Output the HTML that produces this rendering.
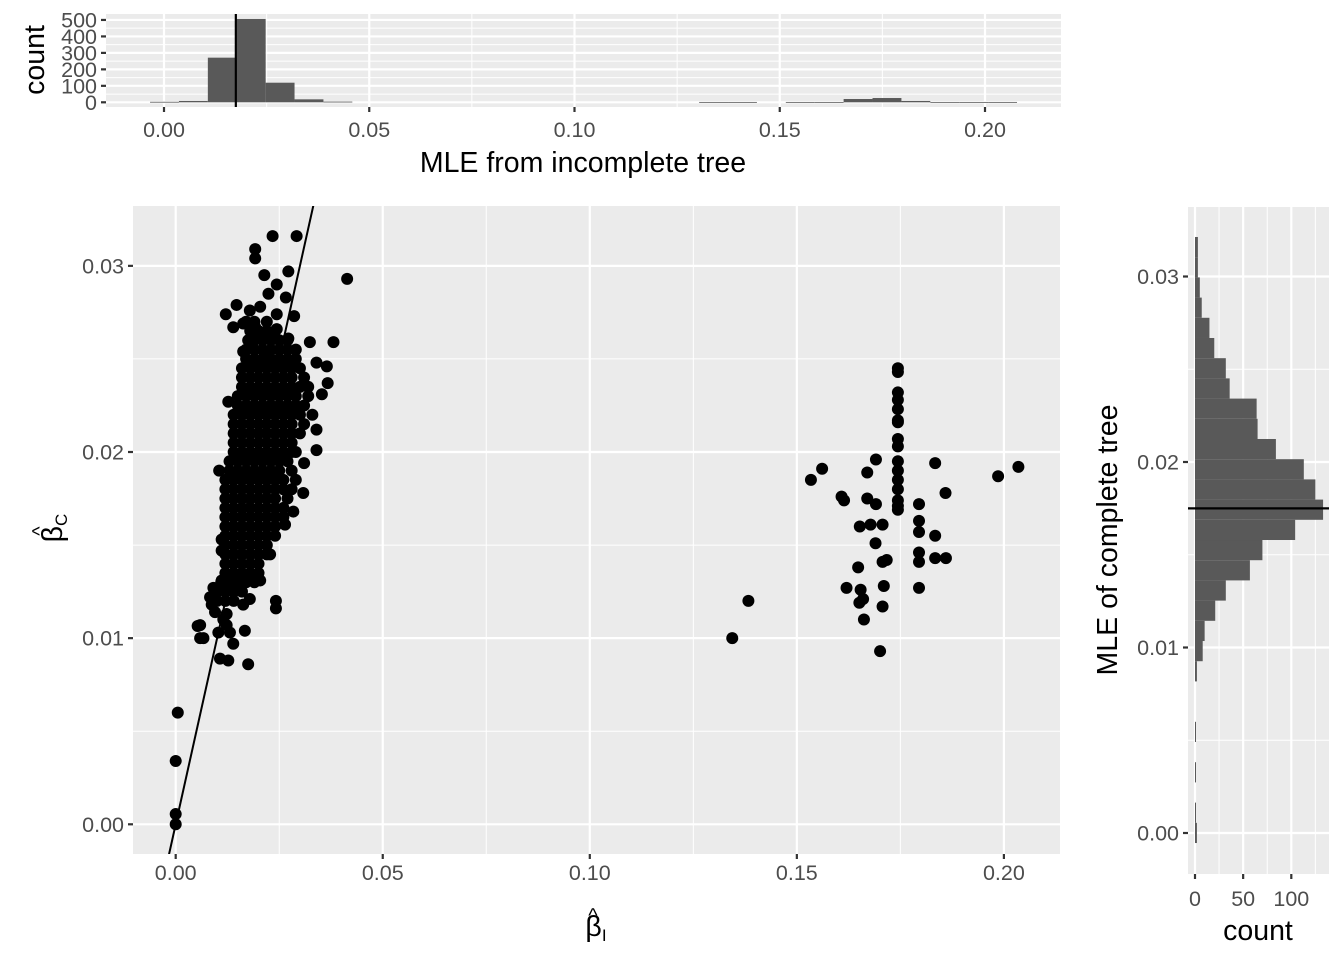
<!DOCTYPE html>
<html><head><meta charset="utf-8"><style>
html,body{margin:0;padding:0;background:#fff;}
svg{display:block;font-family:"Liberation Sans",Arial,sans-serif;}
</style></head><body>
<svg id="c" width="1344" height="960" viewBox="0 0 1344 960"></svg>
<script>
// ---- data (MLE values in units of 1e-3) ----
const clusterRows = [
 [27.0,[17,19,22]],[26.5,[18,20,22,24]],[26.0,[19,21,23,25,27]],[25.5,[17,19,21,23,25,27,29]],
 [25.0,[17,19,21,23,25,27,29]],[24.5,[16,18,20,22,24,26,28,30]],[24.0,[16,18,20,22,24,26,28,31]],
 [23.5,[16,18,20,22,24,26,28,30,32]],[23.0,[15,17,19,21,23,25,27,29,32]],[22.5,[15,17,19,21,23,25,27,29,31]],
 [22.0,[14,16,18,20,22,24,26,28,30,33]],[21.5,[14,16,18,20,22,24,26,28,31]],[21.0,[14,16,18,20,22,24,26,28,30]],
 [20.5,[14,16,18,20,22,24,26,28]],[20.0,[14,16,18,20,22,24,26,29]],[19.5,[13,15,17,19,21,23,25,27]],
 [19.0,[13,15,17,19,21,23,25,28]],[18.5,[12,14,16,18,20,22,24,26,29]],[18.0,[12,14,16,18,20,22,24,26,28]],
 [17.5,[12,14,16,18,20,22,24,27]],[17.0,[12,14,16,18,20,22,24,26]],[16.5,[12,14,16,18,20,22,24,26]],
 [16.0,[12,14,16,18,20,22,24]],[15.5,[12,14,16,18,20,22,24]],[15.0,[12,14,16,18,20,22]],
 [14.5,[12,14,16,18,20,22]],[14.0,[12,14,16,18,20]],[13.5,[12,14,16,18,20]],[13.0,[11,13,15,17,19]],
 [12.5,[10,12,14,16]],[12.0,[10,12,14]]
];
const extraX = [23.4,29.2,19.2,19.2,21.4,27.2,41.4,24.4,22.4,26.6,12.1,14.7,17.9,20.4,24.4,28.6,13.9,16.3,19.2,24.4,38.1,32.4,17.5,27.2,16.3,22.0,34.0,36.5,36.7,35.3,12.7,34.0,34.0,31.0,30.8,10.5,28.0,28.4,26.4,11.1,11.1,22.8,11.1,9.1,24.2,24.2,17.9,16.3,5.9,6.7,12.3,16.7,13.9,10.7,12.7,17.5,8.7,9.5,11.5,12.3,10.3,13.1,8.3,20.4,14.7,0.5,0,0,0,5.3,5.9];
const extraY = [31.6,31.6,30.9,30.4,29.5,29.7,29.3,29.0,28.5,28.3,27.4,27.9,27.6,27.8,27.4,27.3,26.7,26.9,26.7,26.6,25.9,25.9,26.0,26.1,25.4,25.3,24.8,24.6,23.7,23.1,22.7,21.2,20.1,19.4,17.8,19.0,20.0,16.8,16.1,15.3,14.7,14.5,13.1,12.7,12.0,11.6,12.1,11.8,10.7,10.0,10.7,10.4,9.7,8.9,8.8,8.6,11.8,11.4,11.0,11.3,10.3,10.3,12.2,13.1,12.8,6.0,3.4,0.55,0,10.65,10.0];
const farX = [174.4,174.4,174.4,174.4,174.4,174.4,174.4,174.4,174.4,174.4,174.4,174.4,174.4,174.4,174.4,174.4,169.1,183.4,156.1,153.4,167.0,198.6,203.5,185.9,160.8,161.4,167.0,169.1,179.5,165.2,167.8,170.7,179.5,179.5,183.4,169.0,171.7,170.7,179.5,179.5,183.4,186.0,164.8,162.0,165.4,171.0,179.5,166.0,165.1,170.7,166.2,170.1,138.3,134.4];
const farY = [24.5,24.3,23.2,22.8,22.3,21.7,21.6,20.7,20.3,19.5,19.0,18.5,18.0,17.4,17.1,16.9,19.6,19.4,19.1,18.5,18.9,18.7,19.2,17.8,17.6,17.4,17.5,17.2,17.2,16.0,16.1,16.1,16.3,15.7,15.5,15.1,14.2,14.1,14.6,14.1,14.3,14.3,13.8,12.7,12.6,12.8,12.7,12.1,11.9,11.7,11.0,9.3,12.0,10.0];
const meanValue = 0.0175;
// top histogram (incomplete tree): 30 bins
const topBinStart = -0.0034, topBinWidth = 0.00704;
const topCounts = [3,8,271,506,119,18,4,0,0,0,0,0,0,0,0,0,0,0,0,2,2,0,2,2,20,26,8,2,2,2];
const topTicks = [0,100,200,300,400,500];
const xTicks = [0,0.05,0.10,0.15,0.20];
// right histogram (complete tree): 30 bins
const rightBinStart = -0.00054, rightBinWidth = 0.001089;
const rightCounts = [2,1,0,1,0,1,0,0,2,8,10,21,32,57,70,104,133,125,113,84,65,64,36,32,20,15,7,5,3,3];
const rightXTicks = [0,50,100];
const yTicks = [0,0.01,0.02,0.03];

const NS="http://www.w3.org/2000/svg";
const svg=document.getElementById('c');
function mk(tag,attrs,parent){const e=document.createElementNS(NS,tag);for(const k in attrs)e.setAttribute(k,attrs[k]);(parent||svg).appendChild(e);return e;}
const GRID='#ebebeb', TXT='#4d4d4d', TFS=21.5, AFS=28.5;

// ===== Main panel =====
const M={l:133,r:1060,t:206,b:854};
const mx=v=>175.7+v*4141, my=v=>824.3-v*18615;
let p=mk('rect',{x:M.l,y:M.t,width:M.r-M.l,height:M.b-M.t,fill:GRID});


for(let v=-0.025;v<=0.23;v+=0.05){const X=mx(v);if(X>M.l&&X<M.r){const g=mk('line',{x1:X,x2:X,y1:M.t,y2:M.b,stroke:'#fff','stroke-width':1});

}}
for(let v=-0.005;v<=0.036;v+=0.01){const Y=my(v);if(Y>M.t&&Y<M.b){const g=mk('line',{x1:M.l,x2:M.r,y1:Y,y2:Y,stroke:'#fff','stroke-width':1});

}}
xTicks.forEach(v=>{const X=mx(v);const g=mk('line',{x1:X,x2:X,y1:M.t,y2:M.b,stroke:'#fff','stroke-width':2.2});


const t=mk('line',{x1:X,x2:X,y1:M.b,y2:M.b+5,stroke:'#333','stroke-width':2.2});


const l=mk('text',{x:X,y:M.b+26,'text-anchor':'middle','font-size':TFS,fill:TXT});l.textContent=v.toFixed(2);

});
yTicks.forEach(v=>{const Y=my(v);const g=mk('line',{x1:M.l,x2:M.r,y1:Y,y2:Y,stroke:'#fff','stroke-width':2.2});


const t=mk('line',{x1:M.l-5,x2:M.l,y1:Y,y2:Y,stroke:'#333','stroke-width':2.2});


const l=mk('text',{x:M.l-9,y:Y+7.5,'text-anchor':'end','font-size':TFS,fill:TXT});l.textContent=v.toFixed(2);

});
const pts=mk('g',{fill:'#000'});


function dot(x,y){const c=mk('circle',{cx:mx(x/1000),cy:my(y/1000),r:6},pts);

}
clusterRows.forEach(r=>r[1].forEach(x=>dot(x,r[0])));
extraX.forEach((x,i)=>dot(x,extraY[i]));
farX.forEach((x,i)=>dot(x,farY[i]));
const cp=mk('clipPath',{id:'mclip'});mk('rect',{x:M.l,y:M.t,width:M.r-M.l,height:M.b-M.t},cp);
const idl=mk('line',{x1:mx(-0.005),y1:my(-0.005),x2:mx(0.04),y2:my(0.04),stroke:'#000','stroke-width':2,'clip-path':'url(#mclip)'});


let xt=mk('text',{x:596,y:936,'text-anchor':'middle','font-size':AFS,fill:'#000'});xt.innerHTML='β<tspan font-size="17" dy="5">I</tspan>';


let xh=mk('text',{x:593,y:922,'text-anchor':'middle','font-size':20,fill:'#000'});xh.textContent='^';


let yt=mk('text',{x:0,y:0,'text-anchor':'middle','font-size':AFS,fill:'#000',transform:'translate(62,528) rotate(-90)'});yt.innerHTML='β<tspan font-size="17" dy="5">C</tspan>';


let yh=mk('text',{x:0,y:0,'text-anchor':'middle','font-size':20,fill:'#000',transform:'translate(46,531) rotate(-90)'});yh.textContent='^';



// ===== Top histogram =====
const T={l:106,r:1061,t:14,b:107};
const tx=v=>164+v*4105, ty=c=>102.3-c*0.1647;
p=mk('rect',{x:T.l,y:T.t,width:T.r-T.l,height:T.b-T.t,fill:GRID});


for(let c=50;c<=550;c+=100){const Y=ty(c);if(Y>T.t){const g=mk('line',{x1:T.l,x2:T.r,y1:Y,y2:Y,stroke:'#fff','stroke-width':1});

}}
for(let v=-0.025;v<=0.23;v+=0.05){const X=tx(v);if(X>T.l&&X<T.r){const g=mk('line',{x1:X,x2:X,y1:T.t,y2:T.b,stroke:'#fff','stroke-width':1});

}}
topTicks.forEach(c=>{const Y=ty(c);const g=mk('line',{x1:T.l,x2:T.r,y1:Y,y2:Y,stroke:'#fff','stroke-width':2.2});


const t=mk('line',{x1:T.l-5,x2:T.l,y1:Y,y2:Y,stroke:'#333','stroke-width':2.2});


const l=mk('text',{x:T.l-9,y:Y+7.5,'text-anchor':'end','font-size':TFS,fill:TXT});l.textContent=c;

});
xTicks.forEach(v=>{const X=tx(v);const g=mk('line',{x1:X,x2:X,y1:T.t,y2:T.b,stroke:'#fff','stroke-width':2.2});


const t=mk('line',{x1:X,x2:X,y1:T.b,y2:T.b+5,stroke:'#333','stroke-width':2.2});


const l=mk('text',{x:X,y:T.b+30,'text-anchor':'middle','font-size':TFS,fill:TXT});l.textContent=v.toFixed(2);

});
topCounts.forEach((c,i)=>{if(c<=0)return;const x0=tx(topBinStart+i*topBinWidth),x1=tx(topBinStart+(i+1)*topBinWidth);
const b=mk('rect',{x:x0,y:ty(c),width:x1-x0,height:Math.max(ty(0)-ty(c),0.8),fill:'#595959'});

});
const vl=mk('line',{x1:tx(meanValue),x2:tx(meanValue),y1:T.t,y2:T.b,stroke:'#000','stroke-width':2.2});


let tt=mk('text',{x:583,y:172,'text-anchor':'middle','font-size':AFS,fill:'#000'});tt.textContent='MLE from incomplete tree';


let tyt=mk('text',{x:0,y:0,'text-anchor':'middle','font-size':AFS,fill:'#000',transform:'translate(44,60) rotate(-90)'});tyt.textContent='count';



// ===== Right histogram =====
const R={l:1188,r:1329,t:207,b:874};
const rx=c=>1195+c*0.963, ry=v=>833-v*18550;
p=mk('rect',{x:R.l,y:R.t,width:R.r-R.l,height:R.b-R.t,fill:GRID});


for(let c=25;c<=140;c+=50){const g=mk('line',{x1:rx(c),x2:rx(c),y1:R.t,y2:R.b,stroke:'#fff','stroke-width':1});

}
for(let v=-0.005;v<=0.036;v+=0.01){const Y=ry(v);if(Y>R.t&&Y<R.b){const g=mk('line',{x1:R.l,x2:R.r,y1:Y,y2:Y,stroke:'#fff','stroke-width':1});

}}
rightXTicks.forEach(c=>{const X=rx(c);const g=mk('line',{x1:X,x2:X,y1:R.t,y2:R.b,stroke:'#fff','stroke-width':2.2});


const t=mk('line',{x1:X,x2:X,y1:R.b,y2:R.b+5,stroke:'#333','stroke-width':2.2});


const l=mk('text',{x:X,y:R.b+32,'text-anchor':'middle','font-size':TFS,fill:TXT});l.textContent=c;

});
yTicks.forEach(v=>{const Y=ry(v);const g=mk('line',{x1:R.l,x2:R.r,y1:Y,y2:Y,stroke:'#fff','stroke-width':2.2});


const t=mk('line',{x1:R.l-5,x2:R.l,y1:Y,y2:Y,stroke:'#333','stroke-width':2.2});


const l=mk('text',{x:R.l-9,y:Y+7.5,'text-anchor':'end','font-size':TFS,fill:TXT});l.textContent=v.toFixed(2);

});
rightCounts.forEach((c,i)=>{if(c<=0)return;const y0=ry(rightBinStart+i*rightBinWidth),y1=ry(rightBinStart+(i+1)*rightBinWidth);
const b=mk('rect',{x:rx(0),y:y1,width:Math.max(rx(c)-rx(0),1),height:y0-y1,fill:'#595959'});

});
const hl=mk('line',{x1:R.l,x2:R.r,y1:ry(meanValue),y2:ry(meanValue),stroke:'#000','stroke-width':2.2});


let rxt=mk('text',{x:1258,y:940,'text-anchor':'middle','font-size':AFS,fill:'#000'});rxt.textContent='count';


let ryt=mk('text',{x:0,y:0,'text-anchor':'middle','font-size':AFS,fill:'#000',transform:'translate(1117,540) rotate(-90)'});ryt.textContent='MLE of complete tree';


</script>
</body></html>
